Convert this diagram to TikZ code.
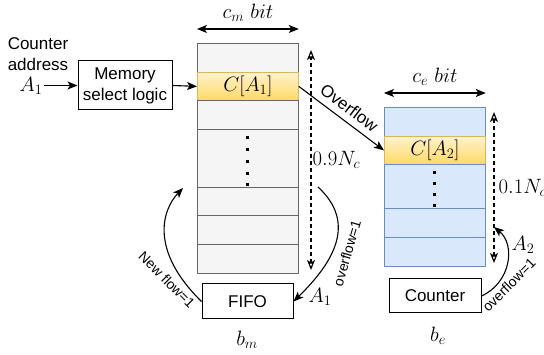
\documentclass[tikz,border=0pt]{standalone}
\usepackage{fontspec}
\newfontfamily\arialfont{Liberation Sans}
\usetikzlibrary{arrows.meta}
\definecolor{grigio}{HTML}{F5F5F5}
\definecolor{bordogrigio}{HTML}{666666}
\definecolor{azzurro}{HTML}{DAE8FC}
\definecolor{bordoazzurro}{HTML}{6C8EBF}
\definecolor{giallochiaro}{HTML}{FFF2CC}
\definecolor{giallo}{HTML}{FFD966}
\definecolor{bordogiallo}{HTML}{D6B656}
\begin{document}
\begin{tikzpicture}[x=1pt,y=-1pt,
    >={Stealth[length=10pt,width=8pt,inset=2.5pt]},
    cella/.style={draw=bordogrigio, fill=grigio, line width=0.8pt, minimum width=101pt, inner sep=0pt, anchor=north west},
    cellae/.style={cella, draw=bordoazzurro, fill=azzurro},
    evid/.style={cella, draw=bordogiallo, top color=giallochiaro, bottom color=giallo, font=\huge},
    blocco/.style={draw, line width=1pt, inner sep=0pt, align=center, font=\fontsize{17}{21}\arialfont},
    testo/.style={align=center, font=\fontsize{17}{21}\arialfont},
    piccolo/.style={inner sep=0pt, font=\fontsize{14}{16}\arialfont},
    mate/.style={inner sep=1pt, font=\huge},
    freccia/.style={->, line width=1.1pt},
    misura/.style={{Stealth[open,length=10pt,width=8pt,inset=2.5pt]}-{Stealth[open,length=10pt,width=8pt,inset=2.5pt]}, dash pattern=on 4pt off 3pt, line width=1.2pt}]
  \useasboundingbox (0,0) rectangle (544,355);
  %ingresso
  \node[testo] (addr) at (38,54) {Counter\\address};
  \node[mate] (a1in) at (31,85.5) {$A_1$};
  \node[blocco, minimum width=94pt, minimum height=49pt] (sel) at (125,85.5) {Memory\\select logic};
  \draw[freccia] (a1in.east) -- (sel.west);
  %colonna principale
  \node[cella, minimum height=29pt] (m0) at (197,43) {};
  \node[evid, minimum height=28pt] (m1) at (197,72) {$C[A_1]$};
  \node[cella, minimum height=29pt] (m2) at (197,100) {};
  \node[cella, minimum height=58pt] (m3) at (197,129) {};
  \node[cella, minimum height=28pt] (m4) at (197,187) {};
  \node[cella, minimum height=29pt] (m5) at (197,215) {};
  \node[cella, minimum height=29pt] (m6) at (197,244) {};
  \draw[line width=3pt, dash pattern=on 3pt off 8.75pt] ([yshift=-7.5pt]m3.north) -- (m3.south);
  \draw[freccia] (sel.east) -- (m1.west);
  \draw[<->, line width=1.1pt] ([yshift=14pt]m0.north west) -- ([yshift=14pt]m0.north east) node[midway, above=6pt, mate] {$c_m\ bit$};
  %misura 0.9
  \coordinate (mtop) at (311,50);
  \coordinate (mbot) at (311,270);
  \draw[misura] (mbot) -- (mtop) node[midway, right, mate] {$0.9N_c$};
  %colonna di emergenza
  \node[cellae, minimum height=29pt] (e0) at (384,107) {};
  \node[evid, minimum height=28pt] (e1) at (384,136) {$C[A_2]$};
  \node[cellae, minimum height=44pt] (e2) at (384,164) {};
  \node[cellae, minimum height=29pt] (e3) at (384,208) {};
  \node[cellae, minimum height=29pt] (e4) at (384,237) {};
  \draw[line width=3pt, dash pattern=on 3pt off 8pt] ([yshift=-7.5pt]e2.north) -- (e2.south);
  \draw[<->, line width=1.1pt] ([yshift=14pt]e0.north west) -- ([yshift=14pt]e0.north east) node[midway, above=6pt, mate] {$c_e\ bit$};
  \draw[freccia] (m1.east) -- (e1.west) node[midway, sloped, above=3pt, testo] {Overflow};
  %misura 0.1
  \coordinate (etop) at (494,112);
  \coordinate (ebot) at (494,263);
  \draw[misura] (ebot) -- (etop) node[midway, right=3pt, mate] {$0.1N_c$};
  %fifo
  \node[blocco, minimum width=91pt, minimum height=35pt] (fifo) at (247.5,301.5) {FIFO};
  \node[mate] (bm) at (247,340) {$b_m$};
  \coordinate (nfend) at (183,188);
  \draw[freccia] (fifo.west) .. controls +(-52,-51) and +(-21,22) .. (nfend);
  \node[piccolo, rotate=-45] (nf) at (167,280) {New flow=1};
  \coordinate (ofstart) at (318,187);
  \draw[freccia] (ofstart) .. controls +(38,35) and +(42,-41) .. (fifo.east);
  \node[piccolo, rotate=74] (of1) at (347,253) {overflow=1};
  \node[mate] (a1out) at (320,297) {$A_1$};
  %contatore
  \node[blocco, minimum width=92pt, minimum height=34pt] (cnt) at (435,296) {Counter};
  \node[mate] (be) at (438,336) {$b_e$};
  \coordinate (cfend) at (494,227);
  \draw[freccia] (cnt.east) .. controls +(29,-13) and +(22,18) .. (cfend);
  \node[piccolo, rotate=45] (of2) at (509,285) {overflow=1};
  \node[mate] (a2) at (523,245) {$A_2$};
\end{tikzpicture}
\end{document}
